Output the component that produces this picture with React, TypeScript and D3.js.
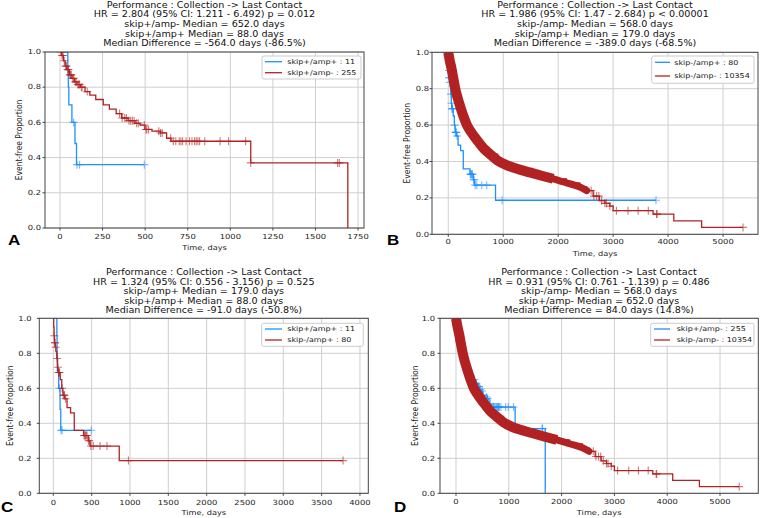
import React from 'react';
import * as d3 from 'd3';

type Pt = [number, number];

// cohort curves: [time in days, event-free proportion after the step]
const ampPos11Steps: Pt[] = [
  [0, 1], [46, 0.9], [49, 0.8], [52, 0.7], [70, 0.6], [88, 0.48], [97, 0.36],
];
const ampPos11Censor = [80, 100, 115, 495];

const skipNegAmpPos80Steps: Pt[] = [
  [0, 1], [5, 0.95], [10, 0.9], [15, 0.86], [25, 0.835], [35, 0.81], [45, 0.77],
  [55, 0.72], [62, 0.69], [90, 0.65], [110, 0.6], [125, 0.56], [150, 0.54],
  [179, 0.49], [225, 0.46], [273, 0.36], [395, 0.33], [455, 0.3], [480, 0.27],
  [860, 0.187],
];
const skipNegAmpPos80Censor = [
  12, 18, 22, 30, 50, 60, 68, 75, 80, 115, 130, 140, 145, 160, 400, 410, 420,
  430, 440, 460, 470, 490, 520, 610, 700, 980, 3780,
];

const skipPosAmpNeg255Steps: Pt[] = [
  [0, 1], [10, 0.98], [20, 0.95], [30, 0.92], [40, 0.9], [55, 0.87], [70, 0.85],
  [85, 0.83], [100, 0.815], [120, 0.8], [147, 0.775], [175, 0.755], [210, 0.73],
  [254, 0.7], [290, 0.675], [330, 0.65], [362, 0.625], [400, 0.61], [440, 0.595],
  [470, 0.585], [499, 0.56], [540, 0.55], [590, 0.54], [626, 0.51], [652, 0.493],
  [1120, 0.37], [1690, 0],
];
const skipPosAmpNeg255Censor = [
  5, 12, 18, 25, 33, 38, 45, 50, 58, 62, 66, 75, 80, 90, 95, 105, 110, 115, 125,
  130, 160, 350, 365, 380, 390, 405, 415, 425, 435, 450, 460, 495, 505, 510, 520,
  580, 590, 600, 650, 665, 680, 700, 710, 720, 740, 760, 775, 790, 800, 810, 820,
  850, 940, 990, 1090, 1120, 1630, 1640,
];

const skipNegAmpNeg10354Steps: Pt[] = [
  [0, 1], [30, 0.95], [60, 0.91], [90, 0.86], [128, 0.8], [170, 0.75],
  [220, 0.7], [275, 0.65], [340, 0.6], [420, 0.56], [490, 0.53], [568, 0.5],
  [650, 0.47], [760, 0.44], [900, 0.405], [1061, 0.38], [1250, 0.36],
  [1485, 0.34], [1700, 0.322], [1909, 0.305], [2150, 0.283], [2394, 0.26],
  [2520, 0.24], [2636, 0.21], [2750, 0.185], [2850, 0.17], [2940, 0.155],
  [3000, 0.13], [3727, 0.111], [4104, 0.074], [4610, 0.038],
];
// censoring is continuous (a solid band of marks) up to these days: thick, then thinner
const skipNegAmpNeg10354Dense = [2000, 2580];
const skipNegAmpNeg10354Censor = [
  2600, 2650, 2700, 2740, 2790, 2850, 2880, 2940, 3060, 3270, 3455, 3640, 3790,
  3800, 5364,
];

const yTicks = [0, 0.2, 0.4, 0.6, 0.8, 1.0];
const xTicksA = [0, 250, 500, 750, 1000, 1250, 1500, 1750];
const xTicksB = [0, 1000, 2000, 3000, 4000, 5000];
const xTicksC = [0, 500, 1000, 1500, 2000, 2500, 3000, 3500, 4000];
const xTicksD = [0, 1000, 2000, 3000, 4000, 5000];

const titlesA = [
  'Performance : Collection -> Last Contact',
  'HR = 2.804 (95% CI: 1.211 - 6.492) p = 0.012',
  'skip+/amp- Median = 652.0 days',
  'skip+/amp+ Median = 88.0 days',
  'Median Difference = -564.0 days (-86.5%)',
];
const titlesB = [
  'Performance : Collection -> Last Contact',
  'HR = 1.986 (95% CI: 1.47 - 2.684) p < 0.00001',
  'skip-/amp- Median = 568.0 days',
  'skip-/amp+ Median = 179.0 days',
  'Median Difference = -389.0 days (-68.5%)',
];
const titlesC = [
  'Performance : Collection -> Last Contact',
  'HR = 1.324 (95% CI: 0.556 - 3.156) p = 0.525',
  'skip-/amp+ Median = 179.0 days',
  'skip+/amp+ Median = 88.0 days',
  'Median Difference = -91.0 days (-50.8%)',
];
const titlesD = [
  'Performance : Collection -> Last Contact',
  'HR = 0.931 (95% CI: 0.761 - 1.139) p = 0.486',
  'skip-/amp- Median = 568.0 days',
  'skip+/amp- Median = 652.0 days',
  'Median Difference = 84.0 days (14.8%)',
];

const legendA = ['skip+/amp+ : 11', 'skip+/amp- : 255'];
const legendB = ['skip-/amp+ : 80', 'skip-/amp- : 10354'];
const legendC = ['skip+/amp+ : 11', 'skip-/amp+ : 80'];
const legendD = ['skip+/amp- : 255', 'skip-/amp- : 10354'];

const BLUE = '#1e90ff';
const RED = '#b22222';
const FONT = '"DejaVu Sans", sans-serif';
// the source figure was resized with a flatter aspect, text looks squashed
const SQUASH = 0.84;

type Series = { steps: Pt[]; censor: number[]; dense?: number[] };

const ampPos11: Series = { steps: ampPos11Steps, censor: ampPos11Censor };
const skipNegAmpPos80: Series = { steps: skipNegAmpPos80Steps, censor: skipNegAmpPos80Censor };
const skipPosAmpNeg255: Series = { steps: skipPosAmpNeg255Steps, censor: skipPosAmpNeg255Censor };
const skipNegAmpNeg10354: Series = {
  steps: skipNegAmpNeg10354Steps,
  censor: skipNegAmpNeg10354Censor,
  dense: skipNegAmpNeg10354Dense,
};

function survivalAt(steps: Pt[], t: number) {
  let s = 1;
  for (const [ti, si] of steps) {
    if (ti <= t) s = si;
    else break;
  }
  return s;
}

function T({ x, y, size, anchor = 'start', rotate = 0, children, ...rest }: any) {
  const tf = rotate
    ? `translate(${x},${y}) rotate(${rotate}) scale(${SQUASH},1)`
    : `translate(${x},${y}) scale(1,${SQUASH})`;
  return (
    <text transform={tf} fontSize={size} textAnchor={anchor} dominantBaseline="central" fill="#222" {...rest}>
      {children}
    </text>
  );
}

function Curve({ sv, x, y, color }: { sv: Series; x: any; y: any; color: string }) {
  const lastStep = sv.steps[sv.steps.length - 1][0];
  const end = Math.max(lastStep, d3.max(sv.censor) ?? 0);
  const pts: Pt[] = [...sv.steps, [end, survivalAt(sv.steps, end)]];
  const step = d3.line<Pt>().x(d => x(d[0])).y(d => y(d[1])).curve(d3.curveStepAfter);
  const smooth = d3.line<Pt>().x(d => x(d[0])).y(d => y(d[1])).curve(d3.curveMonotoneX);
  const h = 4;
  return (
    <g>
      {sv.dense && (
        <>
          <path d={smooth(pts.filter(p => p[0] <= sv.dense![1])) ?? ''}
            fill="none" stroke={color} strokeWidth={7} strokeLinejoin="round" strokeLinecap="round" />
          <path d={smooth(pts.filter(p => p[0] <= sv.dense![0])) ?? ''}
            fill="none" stroke={color} strokeWidth={10} strokeLinejoin="round" />
        </>
      )}
      <path d={step(pts) ?? ''} fill="none" stroke={color} strokeWidth={1.3} />
      {sv.censor.map((t, i) => {
        const cx = x(t);
        const cy = y(survivalAt(sv.steps, t));
        return (
          <path key={i} d={`M${cx - h},${cy}H${cx + h}M${cx},${cy - h}V${cy + h}`}
            stroke={color} strokeWidth={1.1} opacity={0.6} />
        );
      })}
    </g>
  );
}

type Layout = {
  id: string; left: number; right: number; top: number; bottom: number;
  xDomain: [number, number]; titleCx: number; titleY: number[];
  yTickRight: number; xTickY: number; xLabelY: number; yLabelX: number;
  letterX: number; letterY: number;
  leg: { x0: number; y0: number; x1: number; y1: number; s0: number; s1: number; tx: number; rows: number[] };
};

function Panel({ L, xTicks, titles, legend, blue, red, letter }: {
  L: Layout; xTicks: number[]; titles: string[]; legend: string[];
  blue: Series; red: Series; letter: string;
}) {
  const x = d3.scaleLinear().domain(L.xDomain).range([L.left, L.right]);
  const y = d3.scaleLinear().domain([0, 1]).range([L.bottom, L.top]);
  const clip = `clip-${L.id}`;
  return (
    <g fontFamily={FONT}>
      <defs>
        <clipPath id={clip}>
          <rect x={L.left} y={L.top} width={L.right - L.left} height={L.bottom - L.top} />
        </clipPath>
      </defs>
      {xTicks.map(t => (
        <line key={'gx' + t} x1={x(t)} x2={x(t)} y1={L.top} y2={L.bottom} stroke="#cfcfcf" strokeWidth={1} />
      ))}
      {yTicks.map(t => (
        <line key={'gy' + t} x1={L.left} x2={L.right} y1={y(t)} y2={y(t)} stroke="#cfcfcf" strokeWidth={1} />
      ))}
      <g clipPath={`url(#${clip})`}>
        <Curve sv={blue} x={x} y={y} color={BLUE} />
        <Curve sv={red} x={x} y={y} color={RED} />
      </g>
      <rect x={L.left} y={L.top} width={L.right - L.left} height={L.bottom - L.top}
        fill="none" stroke="#444" strokeWidth={1} />
      {xTicks.map(t => (
        <g key={'tx' + t}>
          <line x1={x(t)} x2={x(t)} y1={L.bottom} y2={L.bottom + 2.5} stroke="#444" />
          <T x={x(t)} y={L.xTickY} size={8.4} anchor="middle">{t}</T>
        </g>
      ))}
      {yTicks.map(t => (
        <g key={'ty' + t}>
          <line x1={L.left - 2.5} x2={L.left} y1={y(t)} y2={y(t)} stroke="#444" />
          <T x={L.yTickRight} y={y(t)} size={8.4} anchor="end">{t.toFixed(1)}</T>
        </g>
      ))}
      <T x={(L.left + L.right) / 2} y={L.xLabelY} size={8.2} anchor="middle">Time, days</T>
      <T x={L.yLabelX} y={(L.top + L.bottom) / 2} size={9} anchor="middle" rotate={-90}>Event-free Proportion</T>
      {titles.map((s, i) => (
        <T key={i} x={L.titleCx} y={L.titleY[i]} size={9.6} anchor="middle" fill="#111">{s}</T>
      ))}
      <rect x={L.leg.x0} y={L.leg.y0} width={L.leg.x1 - L.leg.x0} height={L.leg.y1 - L.leg.y0}
        rx={2} fill="#fff" fillOpacity={0.9} stroke="#ccc" strokeWidth={1} />
      {legend.map((s, i) => (
        <g key={s}>
          <line x1={L.leg.s0} x2={L.leg.s1} y1={L.leg.rows[i]} y2={L.leg.rows[i]} stroke={i === 0 ? BLUE : RED} strokeWidth={1.3} />
          <T x={L.leg.tx} y={L.leg.rows[i]} size={8}>{s}</T>
        </g>
      ))}
      <T x={L.letterX} y={L.letterY} size={17} fontFamily='"Liberation Sans", Arial, sans-serif'
        fontWeight="bold" fill="#000">{letter}</T>
    </g>
  );
}

const layoutA: Layout = {
  id: 'a', left: 45, right: 364, top: 52, bottom: 228, xDomain: [-88, 1785],
  titleCx: 204.5, titleY: [5, 14.6, 24.2, 33.8, 43.4],
  yTickRight: 41, xTickY: 237, xLabelY: 248, yLabelX: 19, letterX: 8, letterY: 239.5,
  leg: { x0: 262, y0: 56, x1: 361, y1: 79, s0: 265, s1: 282, tx: 287.3, rows: [61.7, 72.7] },
};
const layoutB: Layout = {
  id: 'b', left: 432, right: 758, top: 52.3, bottom: 234.3, xDomain: [-296, 5636],
  titleCx: 595, titleY: [5, 14.7, 24.3, 34, 43.7],
  yTickRight: 429, xTickY: 241.7, xLabelY: 254, yLabelX: 407, letterX: 387, letterY: 240,
  leg: { x0: 651.7, y0: 56, x1: 754, y1: 83.3, s0: 655, s1: 670, tx: 674.3, rows: [62.3, 76] },
};
const layoutC: Layout = {
  id: 'c', left: 39.3, right: 368.3, top: 318.3, bottom: 493.3, xDomain: [-183, 4109],
  titleCx: 203.8, titleY: [272.3, 282, 291.7, 301, 310.7],
  yTickRight: 31.7, xTickY: 502.3, xLabelY: 512.3, yLabelX: 10, letterX: 1, letterY: 507,
  leg: { x0: 261.7, y0: 323.3, x1: 363.3, y1: 346.3, s0: 265, s1: 282, tx: 287.3, rows: [329, 340] },
};
const layoutD: Layout = {
  id: 'd', left: 440, right: 758.3, top: 318.3, bottom: 493.3, xDomain: [-303, 5725],
  titleCx: 599, titleY: [272.3, 282, 291.7, 301, 310.7],
  yTickRight: 435, xTickY: 501.3, xLabelY: 512.3, yLabelX: 415, letterX: 394, letterY: 507,
  leg: { x0: 650.7, y0: 323.3, x1: 754, y1: 346.3, s0: 654, s1: 670, tx: 676.7, rows: [329, 340] },
};

export default function App() {
  return (
    <svg width={760} height={518} style={{ position: 'absolute', left: 0, top: 0, background: '#fff' }}>
      <Panel L={layoutA} xTicks={xTicksA} titles={titlesA} legend={legendA}
        blue={ampPos11} red={skipPosAmpNeg255} letter="A" />
      <Panel L={layoutB} xTicks={xTicksB} titles={titlesB} legend={legendB}
        blue={skipNegAmpPos80} red={skipNegAmpNeg10354} letter="B" />
      <Panel L={layoutC} xTicks={xTicksC} titles={titlesC} legend={legendC}
        blue={ampPos11} red={skipNegAmpPos80} letter="C" />
      <Panel L={layoutD} xTicks={xTicksD} titles={titlesD} legend={legendD}
        blue={skipPosAmpNeg255} red={skipNegAmpNeg10354} letter="D" />
    </svg>
  );
}
